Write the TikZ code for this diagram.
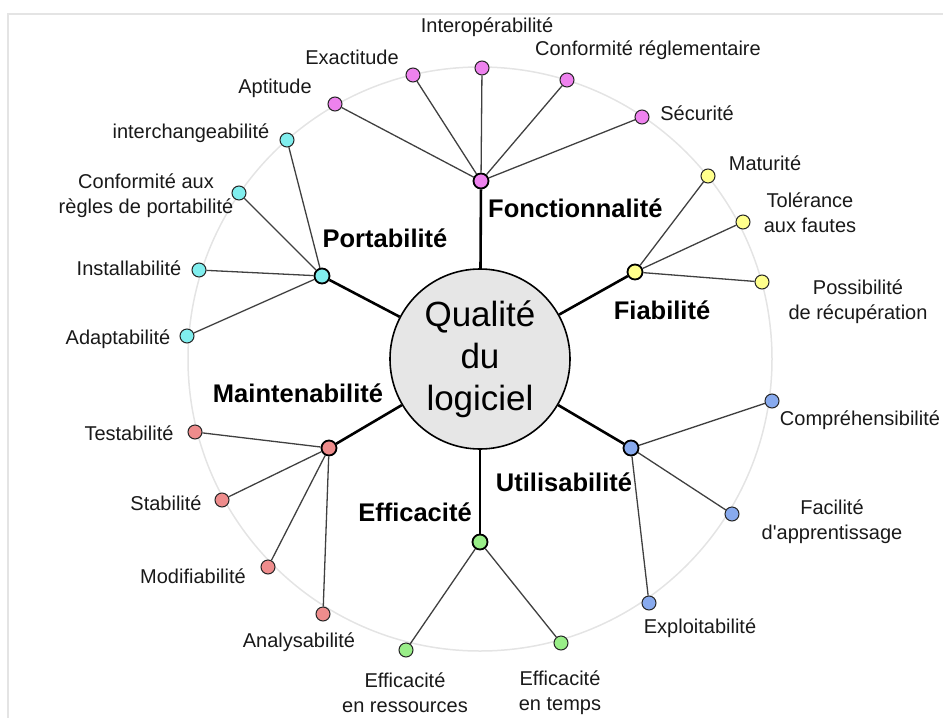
\documentclass[tikz,border=0pt]{standalone}
\usepackage{fontspec}
\setmainfont{Liberation Sans}
\definecolor{fonc}{HTML}{EE82EE}
\definecolor{fiab}{HTML}{FFFF8C}
\definecolor{util}{HTML}{88AAEE}
\definecolor{effi}{HTML}{99EE88}
\definecolor{main}{HTML}{EE8C8C}
\definecolor{port}{HTML}{80EEEE}
\definecolor{ring}{HTML}{E4E4E4}
\definecolor{core}{HTML}{E6E6E6}
\begin{document}
\begin{tikzpicture}[x=1pt,y=-1pt,
  leaf/.style={circle,draw=black!85,line width=1pt,minimum size=14pt,inner sep=0pt},
  hub/.style={circle,draw=black,line width=1.8pt,minimum size=15pt,inner sep=0pt},
  lbl/.style={font=\fontsize{20}{25}\selectfont,align=center,inner sep=0pt,text=black!90},
  cat/.style={font=\bfseries\fontsize{25.5}{30}\selectfont,inner sep=0pt},
  twig/.style={draw=black!75,line width=1.3pt},
  branch/.style={draw=black,line width=2.6pt}]
\useasboundingbox (0,0) rectangle (943,718);
% frame
\draw[ring,line width=1.2pt] (8,718) -- (8,14) -- (943,14);
% outer ring
\draw[ring,line width=1.5pt] (480,359) circle (292);
% centre
\node[circle,draw=black,line width=1.6pt,fill=core,minimum size=180pt,inner sep=0pt,
      font=\fontsize{35}{42}\selectfont,align=center] (q) at (480,359) {Qualité\\du\\logiciel};

% hubs
\node[hub,fill=fonc] (hF) at (481,181) {};
\node[hub,fill=fiab] (hR) at (635,272) {};
\node[hub,fill=util] (hU) at (631,448) {};
\node[hub,fill=effi] (hE) at (480,542) {};
\node[hub,fill=main] (hM) at (329,448) {};
\node[hub,fill=port] (hP) at (322,276) {};

% category labels
\node[cat,anchor=west] (tF) at (488,208) {Fonctionnalité};
\node[cat] (tR) at (662,310) {Fiabilité};
\node[cat] (tU) at (564,482) {Utilisabilité};
\node[cat] (tE) at (415,512) {Efficacité};
\node[cat] (tM) at (298,393) {Maintenabilité};
\node[cat] (tP) at (385,238) {Portabilité};

% leaves: Fonctionnalité
\node[leaf,fill=fonc] (f1) at (335,104) {};
\node[leaf,fill=fonc] (f2) at (413,75) {};
\node[leaf,fill=fonc] (f3) at (482,68) {};
\node[leaf,fill=fonc] (f4) at (567,80) {};
\node[leaf,fill=fonc] (f5) at (642,117) {};
% leaves: Fiabilité
\node[leaf,fill=fiab] (r1) at (708,176) {};
\node[leaf,fill=fiab] (r2) at (743,222) {};
\node[leaf,fill=fiab] (r3) at (762,282) {};
% leaves: Utilisabilité
\node[leaf,fill=util] (u1) at (772,401) {};
\node[leaf,fill=util] (u2) at (732,514) {};
\node[leaf,fill=util] (u3) at (649,603) {};
% leaves: Efficacité
\node[leaf,fill=effi] (e1) at (406,650) {};
\node[leaf,fill=effi] (e2) at (561,643) {};
% leaves: Maintenabilité
\node[leaf,fill=main] (m1) at (195,432) {};
\node[leaf,fill=main] (m2) at (222,500) {};
\node[leaf,fill=main] (m3) at (268,567) {};
\node[leaf,fill=main] (m4) at (323,614) {};
% leaves: Portabilité
\node[leaf,fill=port] (p1) at (287,140) {};
\node[leaf,fill=port] (p2) at (239,193) {};
\node[leaf,fill=port] (p3) at (199,270) {};
\node[leaf,fill=port] (p4) at (187,336) {};

% leaf labels
\node[lbl] (lf1) at (275,88) {Aptitude};
\node[lbl] (lf2) at (352,57) {Exactitude};
\node[lbl] (lf3) at (487,27) {Interopérabilité};
\node[lbl] (lf4) at (648,50) {Conformité réglementaire};
\node[lbl] (lf5) at (697,113) {Sécurité};
\node[lbl] (lr1) at (765,163) {Maturité};
\node[lbl] (lr2) at (810,213) {Tolérance\\aux fautes};
\node[lbl] (lr3) at (858,302) {Possibilité\\de récupération};
\node[lbl] (lu1) at (860,420) {Compréhensibilité};
\node[lbl] (lu2) at (832,522) {Facilité\\d\textquotesingle apprentissage};
\node[lbl] (lu3) at (700,628) {Exploitabilité};
\node[lbl] (le1) at (405,693) {Efficacité\\en ressources};
\node[lbl] (le2) at (560,693) {Efficacité\\en temps};
\node[lbl] (lm1) at (129,433) {Testabilité};
\node[lbl] (lm2) at (166,503) {Stabilité};
\node[lbl] (lm3) at (193,576) {Modifiabilité};
\node[lbl] (lm4) at (299,642) {Analysabilité};
\node[lbl] (lp1) at (191,133) {interchangeabilité};
\node[lbl] (lp2) at (146,196) {Conformité aux\\règles de portabilité};
\node[lbl] (lp3) at (129,268) {Installabilité};
\node[lbl] (lp4) at (118,339) {Adaptabilité};

% branches from the centre to the hubs
\foreach \h in {hF,hR,hU,hE,hM,hP}
  \draw[branch] (q) -- (\h);
% twigs from hubs to leaves
\foreach \l in {f1,f2,f3,f4,f5} \draw[twig] (hF) -- (\l);
\foreach \l in {r1,r2,r3} \draw[twig] (hR) -- (\l);
\foreach \l in {u1,u2,u3} \draw[twig] (hU) -- (\l);
\foreach \l in {e1,e2} \draw[twig] (hE) -- (\l);
\foreach \l in {m1,m2,m3,m4} \draw[twig] (hM) -- (\l);
\foreach \l in {p1,p2,p3,p4} \draw[twig] (hP) -- (\l);
\end{tikzpicture}
\end{document}
